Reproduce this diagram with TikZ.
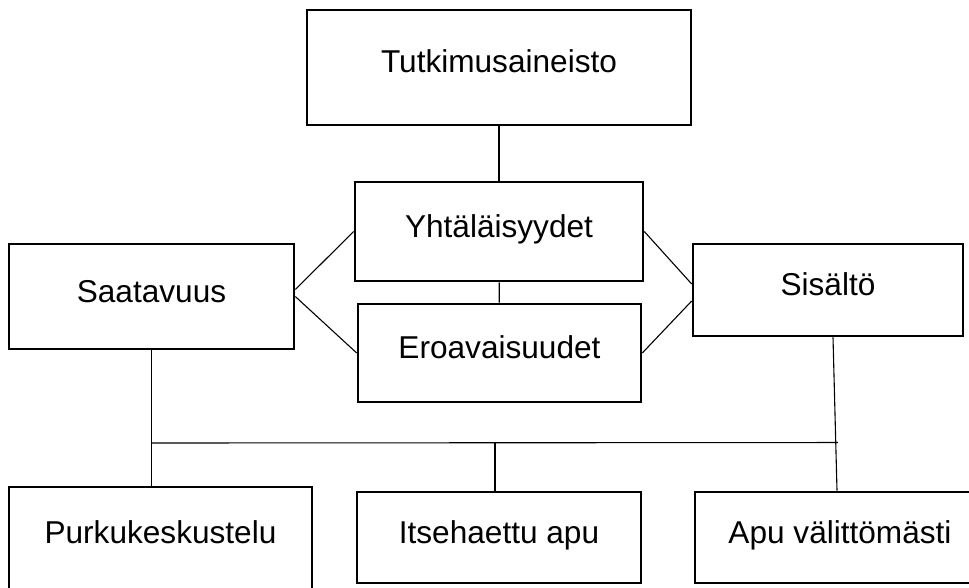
\documentclass[tikz,border=0pt]{standalone}
\usepackage{fontspec}
\setmainfont{Liberation Sans}
\usetikzlibrary{positioning,calc}

\begin{document}
\begin{tikzpicture}[
    x=1pt, y=-1pt,
    box/.style={draw, line width=2.6pt, align=center, font=\fontsize{31.6}{38}\selectfont, text height=23pt, text depth=12pt, inner sep=0pt},
    con/.style={line width=1.1pt}
]
\useasboundingbox (0,0) rectangle (969,588);

\node[box, minimum width=384pt, minimum height=115pt] (tut) at (499,67.5) {Tutkimusaineisto};
\node[box, minimum width=288pt, minimum height=99pt] (yht) at (499,231.5) {Yhtäläisyydet};
\node[box, minimum width=283pt, minimum height=98pt] (ero) at (499.5,353) {Eroavaisuudet};
\node[box, minimum width=285pt, minimum height=105pt] (saa) at (151.5,296.5) {Saatavuus};
\node[box, minimum width=270pt, minimum height=92pt] (sis) at (828,290) {Sisältö};
\node[box, minimum width=303pt, minimum height=111pt, text depth=22pt] (pur) at (160.5,542.5) {Purkukeskustelu};
\node[box, minimum width=284pt, minimum height=91pt] (ith) at (499,537.5) {Itsehaettu apu};
\node[box, minimum width=290pt, minimum height=91pt] (apu) at (840,537.5) {Apu välittömästi};

% yhteydet
\draw[con] (tut) -- (yht);
\draw[con] (yht) -- (ero);
\draw[con] ([yshift=7pt]saa.east) -- (yht.west);
\draw[con] (saa.east) -- (ero.west);
\draw[con] (yht.east) -- ([yshift=6pt]sis.west);
\draw[con] (ero.east) -- ([yshift=-11pt]sis.west);

% alahaarat
\coordinate (sisb) at ([xshift=5pt]sis.south);
\coordinate (busl) at (saa.south |- 0,443);
\coordinate (busr) at ($(sisb)!0.686!(apu.north)$);
\draw[con] (saa.south) -- (saa.south |- pur.north);
\draw[con] (sisb) -- ([xshift=-3pt]apu.north);
\draw[con] (busl) -- (busr);
\draw[con] ([xshift=-4pt]ith.north |- busl) -- ([xshift=-4pt]ith.north);
\end{tikzpicture}
\end{document}
